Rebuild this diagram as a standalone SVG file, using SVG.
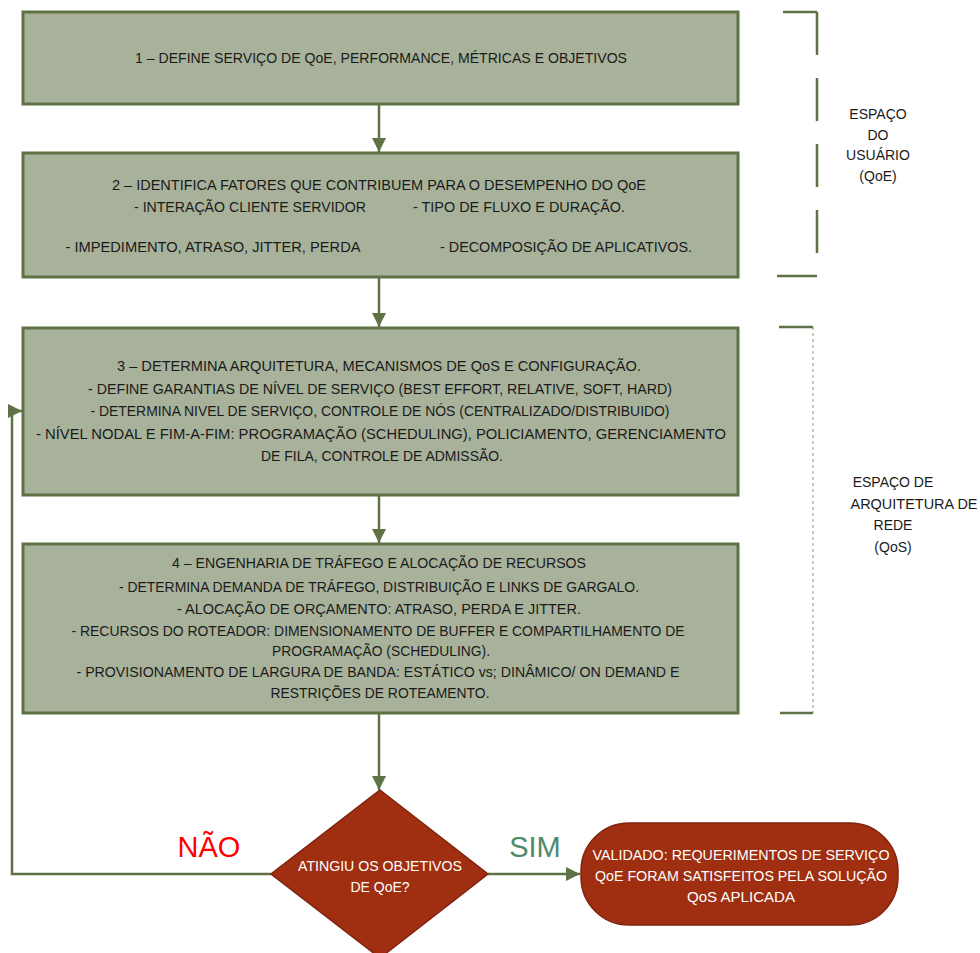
<svg xmlns="http://www.w3.org/2000/svg" width="980" height="953" viewBox="0 0 980 953">
  <defs>
    <style>
      .box { fill: #A8B29A; stroke: #5E7245; stroke-width: 3; }
      .dec { fill: #A02E10; stroke: #7E2410; stroke-width: 1.5; }
      .t { font-family: "Liberation Sans", Arial, sans-serif; font-size: 14px; fill: #1A1A1A; text-anchor: middle; }
      .w { font-family: "Liberation Sans", Arial, sans-serif; font-size: 14px; fill: #FFFFFF; text-anchor: middle; }
      .side { font-family: "Liberation Sans", Arial, sans-serif; font-size: 14px; fill: #1A1A1A; text-anchor: middle; }
      .conn { fill: none; stroke: #5E7245; stroke-width: 2.5; }
      .brk { fill: none; stroke: #5E7245; stroke-width: 2.5; }
    </style>
    <marker id="arrow" markerUnits="userSpaceOnUse" markerWidth="14" markerHeight="14" refX="14" refY="7" orient="auto">
      <path d="M0,0 L14,7 L0,14 z" fill="#5E7245"/>
    </marker>
  </defs>

  <rect width="980" height="953" fill="#FFFFFF"/>

  <!-- connectors -->
  <g id="connectors">
    <path class="conn" d="M379,105 V152" marker-end="url(#arrow)"/>
    <path class="conn" d="M379,278 V327" marker-end="url(#arrow)"/>
    <path class="conn" d="M379,496 V543" marker-end="url(#arrow)"/>
    <path class="conn" d="M379,714 V790" marker-end="url(#arrow)"/>
    <path class="conn" d="M488,874 H580" marker-end="url(#arrow)"/>
    <path class="conn" d="M271,874 H12 V411 H22" marker-end="url(#arrow)"/>
  </g>

  <!-- step 1 -->
  <g id="step1">
    <rect class="box" x="23" y="12" width="715" height="92"/>
    <text class="t" x="381" y="63" textLength="492" lengthAdjust="spacingAndGlyphs">1 – DEFINE SERVIÇO DE QoE, PERFORMANCE, MÉTRICAS E OBJETIVOS</text>
  </g>

  <!-- step 2 -->
  <g id="step2">
    <rect class="box" x="23" y="153" width="715" height="124"/>
    <text class="t" x="379" y="190" textLength="534" lengthAdjust="spacingAndGlyphs">2 – IDENTIFICA FATORES QUE CONTRIBUEM PARA O DESEMPENHO DO QoE</text>
    <text class="t" x="250" y="212" textLength="232" lengthAdjust="spacingAndGlyphs">- INTERAÇÃO CLIENTE SERVIDOR</text>
    <text class="t" x="519" y="212" textLength="212" lengthAdjust="spacingAndGlyphs">- TIPO DE FLUXO E DURAÇÃO.</text>
    <text class="t" x="213" y="252" textLength="295" lengthAdjust="spacingAndGlyphs">- IMPEDIMENTO, ATRASO, JITTER, PERDA</text>
    <text class="t" x="566" y="252" textLength="252" lengthAdjust="spacingAndGlyphs">- DECOMPOSIÇÃO DE APLICATIVOS.</text>
  </g>

  <!-- step 3 -->
  <g id="step3">
    <rect class="box" x="23" y="328" width="715" height="167"/>
    <text class="t" x="379" y="371" textLength="524" lengthAdjust="spacingAndGlyphs">3 – DETERMINA ARQUITETURA, MECANISMOS DE QoS E CONFIGURAÇÃO.</text>
    <text class="t" x="380" y="394" textLength="584" lengthAdjust="spacingAndGlyphs">- DEFINE GARANTIAS DE NÍVEL DE SERVIÇO (BEST EFFORT, RELATIVE, SOFT, HARD)</text>
    <text class="t" x="380" y="416" textLength="579" lengthAdjust="spacingAndGlyphs">- DETERMINA NIVEL DE SERVIÇO, CONTROLE DE NÓS (CENTRALIZADO/DISTRIBUIDO)</text>
    <text class="t" x="381" y="439" textLength="690" lengthAdjust="spacingAndGlyphs">- NÍVEL NODAL E FIM-A-FIM: PROGRAMAÇÃO (SCHEDULING), POLICIAMENTO, GERENCIAMENTO</text>
    <text class="t" x="382" y="461" textLength="242" lengthAdjust="spacingAndGlyphs">DE FILA, CONTROLE DE ADMISSÃO.</text>
  </g>

  <!-- step 4 -->
  <g id="step4">
    <rect class="box" x="23" y="544" width="715" height="169"/>
    <text class="t" x="379" y="568" textLength="414" lengthAdjust="spacingAndGlyphs">4 – ENGENHARIA DE TRÁFEGO E ALOCAÇÃO DE RECURSOS</text>
    <text class="t" x="379" y="592" textLength="520" lengthAdjust="spacingAndGlyphs">- DETERMINA DEMANDA DE TRÁFEGO, DISTRIBUIÇÃO E LINKS DE GARGALO.</text>
    <text class="t" x="379" y="614" textLength="404" lengthAdjust="spacingAndGlyphs">- ALOCAÇÃO DE ORÇAMENTO: ATRASO, PERDA E JITTER.</text>
    <text class="t" x="378" y="636" textLength="613" lengthAdjust="spacingAndGlyphs">- RECURSOS DO ROTEADOR: DIMENSIONAMENTO DE BUFFER E COMPARTILHAMENTO DE</text>
    <text class="t" x="381" y="656" textLength="218" lengthAdjust="spacingAndGlyphs">PROGRAMAÇÃO (SCHEDULING).</text>
    <text class="t" x="378" y="677" textLength="603" lengthAdjust="spacingAndGlyphs">- PROVISIONAMENTO DE LARGURA DE BANDA: ESTÁTICO vs; DINÂMICO/ ON DEMAND E</text>
    <text class="t" x="380" y="698" textLength="219" lengthAdjust="spacingAndGlyphs">RESTRIÇÕES DE ROTEAMENTO.</text>
  </g>

  <!-- decision -->
  <g id="decision">
    <path class="dec" d="M380,790 L488,874 L380,958 L271,874 Z"/>
    <text class="w" x="380" y="871" textLength="164" lengthAdjust="spacingAndGlyphs">ATINGIU OS OBJETIVOS</text>
    <text class="w" x="380" y="892">DE QoE?</text>
  </g>

  <!-- branch labels -->
  <g id="labels">
    <text x="209" y="857" font-family="Liberation Sans, Arial, sans-serif" font-size="29" fill="#FF0000" text-anchor="middle">NÃO</text>
    <text x="535" y="857" font-family="Liberation Sans, Arial, sans-serif" font-size="29" fill="#4E8A6A" text-anchor="middle">SIM</text>
  </g>

  <!-- result -->
  <g id="validated">
    <rect class="dec" x="581" y="823" width="317" height="102" rx="48" ry="48"/>
    <text class="w" x="741" y="860" textLength="297" lengthAdjust="spacingAndGlyphs">VALIDADO: REQUERIMENTOS DE SERVIÇO</text>
    <text class="w" x="741" y="881" textLength="292" lengthAdjust="spacingAndGlyphs">QoE FORAM SATISFEITOS PELA SOLUÇÃO</text>
    <text class="w" x="741" y="902" textLength="108" lengthAdjust="spacingAndGlyphs">QoS APLICADA</text>
  </g>

  <!-- user space bracket -->
  <g id="user-space">
    <path class="brk" d="M783,12 H817"/>
    <path class="brk" d="M777,276 H817"/>
    <path class="brk" d="M817,12 V276" stroke-dasharray="43 23"/>
    <text class="side" x="878" y="119">ESPAÇO</text>
    <text class="side" x="878" y="140">DO</text>
    <text class="side" x="878" y="160">USUÁRIO</text>
    <text class="side" x="878" y="181">(QoE)</text>
  </g>

  <!-- network architecture bracket -->
  <g id="network-space">
    <path class="brk" d="M779,327 H813"/>
    <path class="brk" d="M780,713 H813"/>
    <path d="M813,327 V713" fill="none" stroke="#8C9A74" stroke-width="1" stroke-dasharray="3 3"/>
    <text class="side" x="893" y="487">ESPAÇO DE</text>
    <text class="side" x="914" y="509" textLength="127" lengthAdjust="spacingAndGlyphs">ARQUITETURA DE</text>
    <text class="side" x="893" y="530">REDE</text>
    <text class="side" x="893" y="552">(QoS)</text>
  </g>
</svg>
